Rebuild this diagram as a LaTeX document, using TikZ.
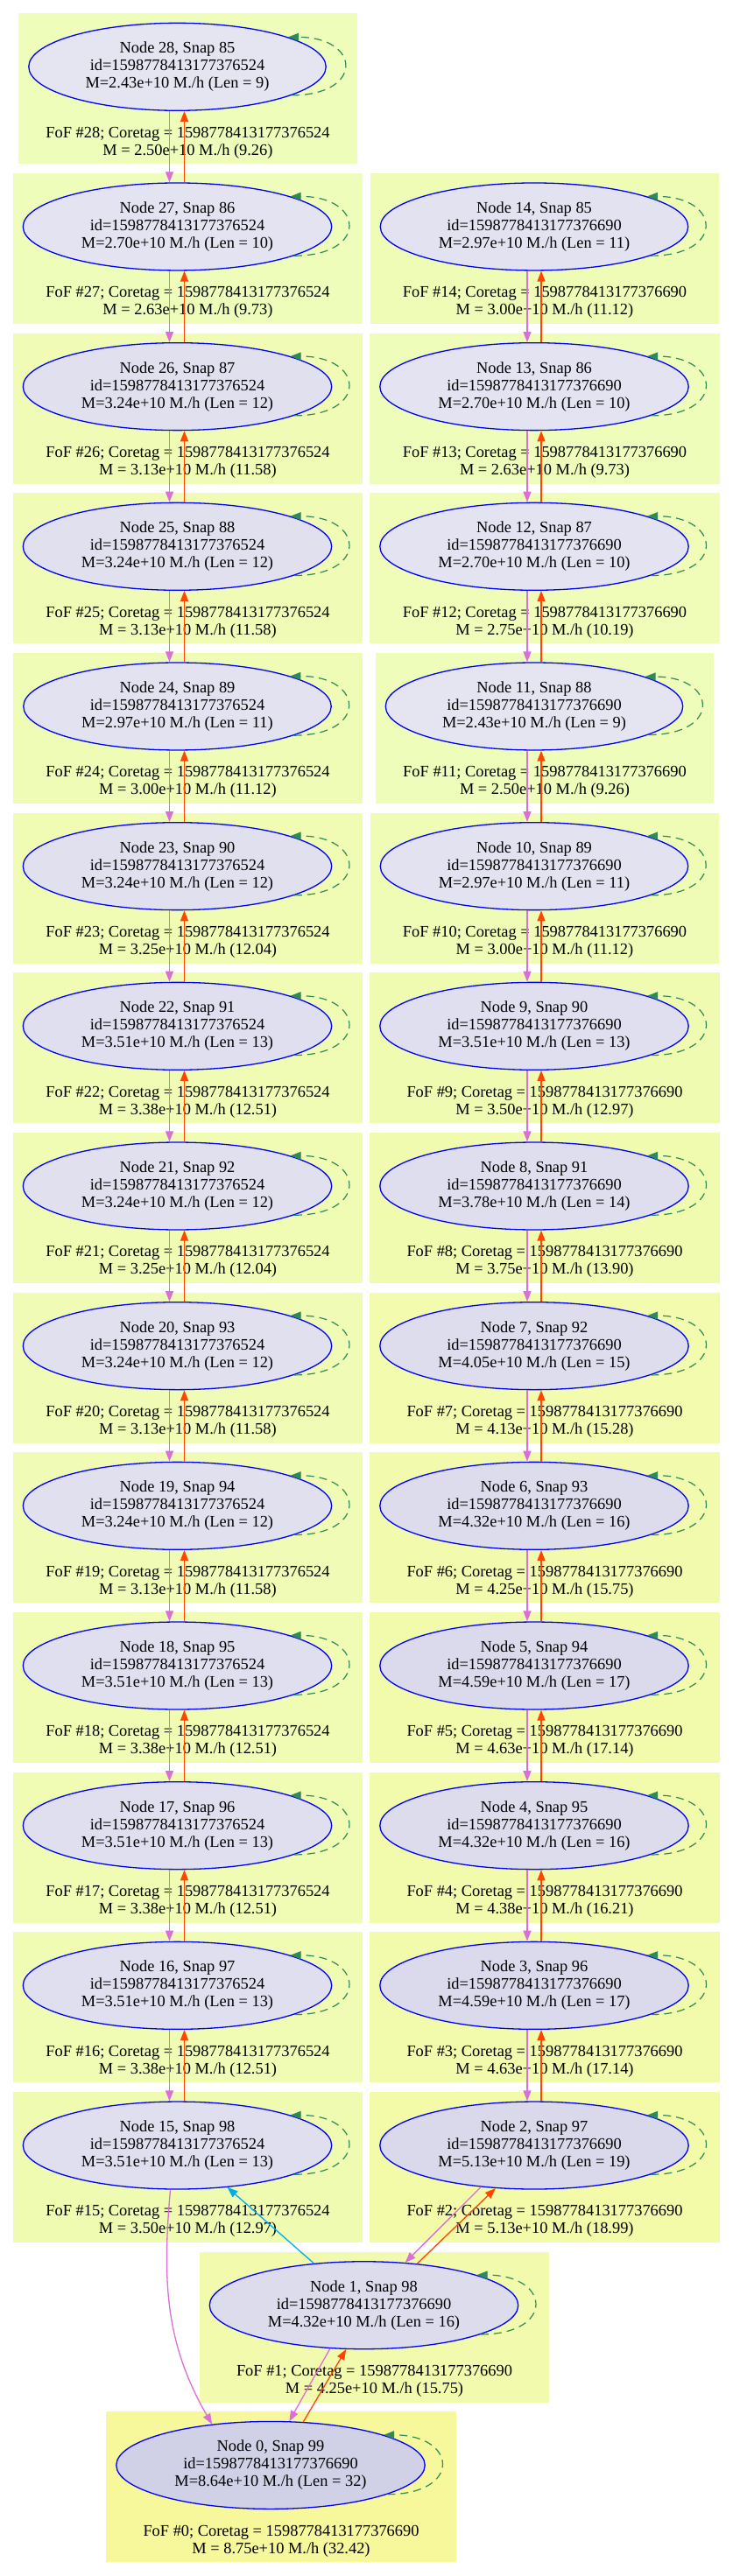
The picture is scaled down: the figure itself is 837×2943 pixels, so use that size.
\documentclass[tikz,border=0pt]{standalone}
\usepackage{fontspec}
\setmainfont{Liberation Serif}
\usetikzlibrary{positioning,arrows.meta,shapes.geometric,calc,backgrounds}

\definecolor{foflow}{RGB}{238,253,186}
\definecolor{fofhigh}{RGB}{247,247,155}
\definecolor{halolow}{RGB}{229,229,242}
\definecolor{halohigh}{RGB}{208,208,230}
\definecolor{descviolet}{RGB}{218,112,214}
\definecolor{progred}{RGB}{255,69,0}
\definecolor{loopgreen}{RGB}{46,139,87}

\begin{document}
\begin{tikzpicture}[
    x=1pt, y=1pt,
    every node/.style={font=\fontsize{18.4}{20}\selectfont},
    halo/.style={ellipse, draw=blue, line width=1.3pt, fill=halohigh!#1!halolow,
        align=center, inner xsep=15pt, inner ysep=7pt},
    foflabel/.style={align=center, inner sep=0pt},
    fofbox/.style={fill=fofhigh!#1!foflow},
    headtip/.style={-{Triangle[length=12pt,width=9pt]}},
    desc/.style={descviolet, line width=1.3pt, headtip},
    prog/.style={progred, line width=1.3pt, headtip},
    merger/.style={cyan, line width=1.3pt, headtip},
    selfloop/.style={loopgreen, line width=1.2pt, dash pattern=on 9pt off 6pt, headtip}
]

% Page
\begin{scope}[on background layer]
\fill[white] (0,0) rectangle (837,-2943);
\end{scope}
\useasboundingbox (0,0) rectangle (837,-2943);

% === LEFT BRANCH (id ...524) ===
\foreach \id/\snap/\hm/\len/\fm/\rat [count=\r from 0] in {%
    28/85/2.43/9/2.50/9.26,
    27/86/2.70/10/2.63/9.73,
    26/87/3.24/12/3.13/11.58,
    25/88/3.24/12/3.13/11.58,
    24/89/2.97/11/3.00/11.12,
    23/90/3.24/12/3.25/12.04,
    22/91/3.51/13/3.38/12.51,
    21/92/3.24/12/3.25/12.04,
    20/93/3.24/12/3.13/11.58,
    19/94/3.24/12/3.13/11.58,
    18/95/3.51/13/3.38/12.51,
    17/96/3.51/13/3.38/12.51,
    16/97/3.51/13/3.38/12.51,
    15/98/3.51/13/3.50/12.97}{
  \pgfmathtruncatemacro\hp{100*ln(\hm/2.43)/ln(8.64/2.43)}
  \pgfmathtruncatemacro\fp{100*ln(\fm/2.5)/ln(8.75/2.5)}
  \node[halo=\hp] (n\id) at (202.5,{-76.3-182.67*\r}) {Node \id, Snap \snap\\id=1598778413177376524\\M=\hm e+10 M./h (Len = \len)};
  \node[foflabel] (f\id) at ($(n\id.south)+(12,-36)$) {FoF \#\id; Coretag = 1598778413177376524\\M = \fm e+10 M./h (\rat)};
  \draw[selfloop] (n\id.-14) to[out=0,in=0,looseness=3.2] (n\id.15);
  \begin{scope}[on background layer]
    \fill[fofbox=\fp] ($(n\id.west)+(-11,61)$) rectangle ($(n\id.east)+(35,-111)$);
  \end{scope}
}

% === RIGHT BRANCH (id ...690) ===
\foreach \id/\snap/\hm/\len/\fm/\rat [count=\r from 1] in {%
    14/85/2.97/11/3.00/11.12,
    13/86/2.70/10/2.63/9.73,
    12/87/2.70/10/2.75/10.19,
    11/88/2.43/9/2.50/9.26,
    10/89/2.97/11/3.00/11.12,
    9/90/3.51/13/3.50/12.97,
    8/91/3.78/14/3.75/13.90,
    7/92/4.05/15/4.13/15.28,
    6/93/4.32/16/4.25/15.75,
    5/94/4.59/17/4.63/17.14,
    4/95/4.32/16/4.38/16.21,
    3/96/4.59/17/4.63/17.14,
    2/97/5.13/19/5.13/18.99}{
  \pgfmathtruncatemacro\hp{100*ln(\hm/2.43)/ln(8.64/2.43)}
  \pgfmathtruncatemacro\fp{100*ln(\fm/2.5)/ln(8.75/2.5)}
  \node[halo=\hp] (n\id) at (610,{-76.3-182.67*\r}) {Node \id, Snap \snap\\id=1598778413177376690\\M=\hm e+10 M./h (Len = \len)};
  \node[foflabel] (f\id) at ($(n\id.south)+(12,-36)$) {FoF \#\id; Coretag = 1598778413177376690\\M = \fm e+10 M./h (\rat)};
  \draw[selfloop] (n\id.-14) to[out=0,in=0,looseness=3.2] (n\id.15);
  \begin{scope}[on background layer]
    \fill[fofbox=\fp] ($(n\id.west)+(-11,61)$) rectangle ($(n\id.east)+(35,-111)$);
  \end{scope}
}

% === Snap 98 and 99 ===
\node[halo=45] (n1) at (415.5,-2633.7) {Node 1, Snap 98\\id=1598778413177376690\\M=4.32e+10 M./h (Len = 16)};
\node[foflabel] (f1) at ($(n1.south)+(12,-36)$) {FoF \#1; Coretag = 1598778413177376690\\M = 4.25e+10 M./h (15.75)};
\draw[selfloop] (n1.-14) to[out=0,in=0,looseness=3.2] (n1.15);

\node[halo=100] (n0) at (309,-2816.4) {Node 0, Snap 99\\id=1598778413177376690\\M=8.64e+10 M./h (Len = 32)};
\node[foflabel] (f0) at ($(n0.south)+(12,-36)$) {FoF \#0; Coretag = 1598778413177376690\\M = 8.75e+10 M./h (32.42)};
\draw[selfloop] (n0.-14) to[out=0,in=0,looseness=3.2] (n0.15);

\begin{scope}[on background layer]
\fill[fofbox=42] ($(n1.west)+(-11,61)$) rectangle ($(n1.east)+(35,-111)$);
\fill[fofbox=100] ($(n0.west)+(-11,61)$) rectangle ($(n0.east)+(35,-111)$);
\end{scope}

% Links along each branch
\foreach \a in {28,...,16}{
  \pgfmathtruncatemacro\b{\a-1}
  \draw[desc] ([xshift=-9pt]n\a.south) -- ([xshift=-9pt]n\b.north);
  \draw[prog] ([xshift=8pt]n\b.north) -- ([xshift=8pt]n\a.south);
}
\foreach \a in {14,...,3}{
  \pgfmathtruncatemacro\b{\a-1}
  \draw[desc] ([xshift=-8pt]n\a.south) -- ([xshift=-8pt]n\b.north);
  \draw[prog] ([xshift=8pt]n\b.north) -- ([xshift=8pt]n\a.south);
}

% Links into the final halo
\draw[desc] (n2.218) -- (n1.46);
\draw[prog] (n1.38) -- (n2.228);
\draw[desc] (n1.232) -- (n0.67);
\draw[prog] (n0.53) -- (n1.248);
\draw[merger] (n1.140) -- (n15.-40);
\draw[desc] ([xshift=-8pt]n15.south) to[out=-95,in=120] (n0.145);

\end{tikzpicture}
\end{document}
